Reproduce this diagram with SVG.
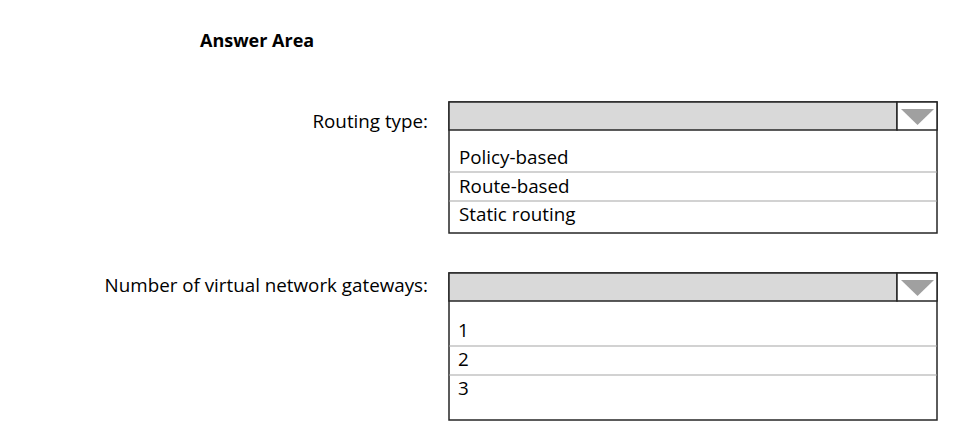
<svg xmlns="http://www.w3.org/2000/svg" width="968" height="432" viewBox="0 0 968 432">
<style>
.t{font-family:"Open Sans","Noto Sans",sans-serif;font-size:18.8px;fill:#000}
.b{font-family:"Open Sans","Noto Sans",sans-serif;font-size:18px;font-weight:bold;fill:#000}
.box{fill:#fff;stroke:#262626;stroke-width:1.5}
.hdr{fill:#d9d9d9;stroke:#262626;stroke-width:1.5}
.cell{fill:#fff;stroke:#262626;stroke-width:1.5}
.sep{stroke:#a6a6a6;stroke-width:1.2}
.tri{fill:#a0a0a0}
</style>
<rect width="968" height="432" fill="#fff"/>
<text class="b" x="200" y="47">Answer Area</text>
<g id="routing">
<text class="t" x="428" y="128" text-anchor="end">Routing type:</text>
<rect class="box" x="449" y="102" width="488" height="131"/>
<rect class="hdr" x="449" y="102" width="448" height="28"/>
<rect class="cell" x="897" y="102" width="40" height="28"/>
<polygon class="tri" points="901,109 934,109 917.5,125"/>
<line class="sep" x1="449" y1="172" x2="937" y2="172"/>
<line class="sep" x1="449" y1="201" x2="937" y2="201"/>
<text class="t" x="459" y="164">Policy-based</text>
<text class="t" x="459" y="193">Route-based</text>
<text class="t" x="459" y="221">Static routing</text>
</g>
<g id="gateways">
<text class="t" x="428" y="292" text-anchor="end">Number of virtual network gateways:</text>
<rect class="box" x="449" y="273" width="488" height="147"/>
<rect class="hdr" x="449" y="273" width="448" height="28"/>
<rect class="cell" x="897" y="273" width="40" height="28"/>
<polygon class="tri" points="901,280 934,280 917.5,296"/>
<line class="sep" x1="449" y1="346" x2="937" y2="346"/>
<line class="sep" x1="449" y1="375" x2="937" y2="375"/>
<text class="t" x="458" y="337">1</text>
<text class="t" x="458" y="366">2</text>
<text class="t" x="458" y="395">3</text>
</g>
</svg>
